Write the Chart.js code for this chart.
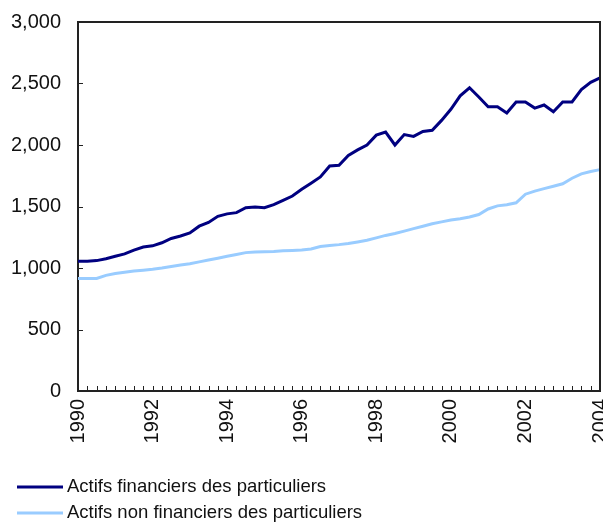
<!DOCTYPE html>
<html>
<head>
<meta charset="utf-8">
<script src="https://cdn.jsdelivr.net/npm/chart.js@4.4.0/dist/chart.umd.min.js"></script>
<style>
    html, body { margin: 0; padding: 0; background: #fff; }
</style>
</head>
<body>
<canvas id="chart" width="603" height="523"></canvas>
<script>
// quarterly, 1990 T1 to 2004 T1
const quarters = [];
for (let y = 1990; y <= 2004; y++) {
    for (let q = 1; q <= 4; q++) {
        if (y < 2004 || q === 1) quarters.push(y + " T" + q);
    }
}
const tickYears = ["1990", "1992", "1994", "1996", "1998", "2000", "2002", "2004"];

const financiers = [
    1055, 1055, 1060, 1075, 1095, 1115, 1145, 1170,
    1180, 1205, 1240, 1260, 1285, 1340, 1370, 1420,
    1440, 1450, 1490, 1495, 1490, 1515, 1550, 1585,
    1640, 1690, 1740, 1830, 1835, 1915, 1960, 2000,
    2080, 2105, 2000, 2085, 2070, 2110, 2120, 2200,
    2290, 2400, 2465, 2390, 2310, 2310, 2260, 2350,
    2350, 2300, 2325, 2270, 2350, 2350, 2450, 2510,
    2545
];
const nonFinanciers = [
    915, 915, 915, 940, 955, 965, 975, 982,
    990, 1000, 1012, 1025, 1035, 1050, 1065, 1080,
    1095, 1110, 1125, 1130, 1132, 1135, 1140, 1143,
    1147, 1155, 1175, 1182, 1190, 1200, 1212, 1225,
    1245, 1265, 1280, 1300, 1320, 1340, 1360, 1375,
    1390, 1400, 1415, 1435, 1480, 1505, 1515, 1530,
    1600, 1625, 1645, 1665, 1685, 1730, 1765, 1785,
    1800
];
const seriesNames = [
    "Actifs financiers des particuliers",
    "Actifs non financiers des particuliers"
];

const fontFamily = "'Liberation Sans', Arial, sans-serif";

// frame on top/right, small ticks pointing into the plot, legend below
const framePlugin = {
    id: "frame",
    afterDraw(chart) {
        const ctx = chart.ctx;
        const area = chart.chartArea;
        const x = chart.scales.x;
        const y = chart.scales.y;

        ctx.save();
        ctx.strokeStyle = "#222";
        ctx.lineWidth = 2;
        ctx.beginPath();
        ctx.moveTo(area.left, area.top);
        ctx.lineTo(area.right, area.top);
        ctx.lineTo(area.right, area.bottom);
        ctx.stroke();

        ctx.lineWidth = 1;
        ctx.beginPath();
        for (let i = 0; i < quarters.length; i++) {
            const px = Math.round(x.getPixelForValue(i)) + 0.5;
            ctx.moveTo(px, area.bottom);
            ctx.lineTo(px, area.bottom - 5);
        }
        for (let v = 500; v < 3000; v += 500) {
            const py = Math.round(y.getPixelForValue(v)) + 0.5;
            ctx.moveTo(area.left, py);
            ctx.lineTo(area.left + 5, py);
        }
        ctx.stroke();

        ctx.font = "18.5px " + fontFamily;
        ctx.fillStyle = "#111";
        ctx.textBaseline = "middle";
        chart.data.datasets.forEach((ds, i) => {
            const ly = 487 + i * 26;
            ctx.strokeStyle = ds.borderColor;
            ctx.lineWidth = 3;
            ctx.beginPath();
            ctx.moveTo(17, ly);
            ctx.lineTo(63, ly);
            ctx.stroke();
            ctx.fillText(ds.label, 67, ly);
        });
        ctx.restore();
    }
};

new Chart(document.getElementById("chart").getContext("2d"), {
    type: "line",
    data: {
        labels: quarters,
        datasets: [
            {
                label: seriesNames[0],
                data: financiers,
                borderColor: "#000080",
                borderWidth: 3,
                pointRadius: 0,
                tension: 0,
            },
            {
                label: seriesNames[1],
                data: nonFinanciers,
                borderColor: "#99ccff",
                borderWidth: 3,
                pointRadius: 0,
                tension: 0,
            },
        ],
    },
    options: {
        responsive: false,
        animation: false,
        layout: {
            padding: { left: 0, right: 3, top: 22, bottom: 0 },
        },
        plugins: {
            legend: { display: false },
            tooltip: { enabled: false },
        },
        scales: {
            x: {
                grid: { display: false, drawTicks: false },
                border: { display: true, color: "#222", width: 2 },
                ticks: {
                    autoSkip: false,
                    minRotation: 90,
                    maxRotation: 90,
                    padding: 8,
                    color: "#111",
                    font: { family: fontFamily, size: 20 },
                    callback: function (value, index) {
                        return index % 8 === 0 ? tickYears[index / 8] : "";
                    },
                },
                afterFit: function (scale) {
                    scale.height = 132;
                    scale.paddingLeft = 0;
                    scale.paddingRight = 0;
                },
            },
            y: {
                min: 0,
                max: 3000,
                grid: { display: false, drawTicks: false },
                border: { display: true, color: "#222", width: 2 },
                ticks: {
                    stepSize: 500,
                    padding: 17,
                    color: "#111",
                    font: { family: fontFamily, size: 20 },
                    callback: function (value) {
                        return new Intl.NumberFormat("en-US").format(value);
                    },
                },
                afterFit: function (scale) {
                    scale.width = 78;
                    scale.paddingTop = 0;
                    scale.paddingBottom = 0;
                },
            },
        },
    },
    plugins: [framePlugin],
});
</script>
</body>
</html>
